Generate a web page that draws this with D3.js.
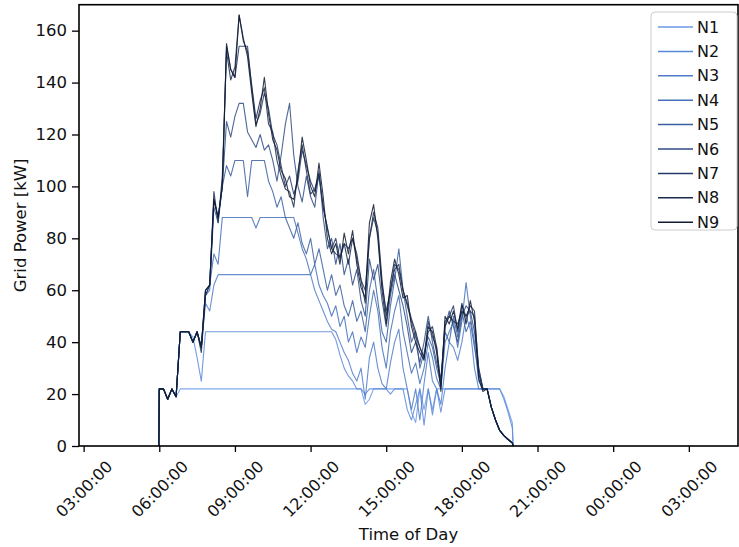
<!DOCTYPE html>
<html>
<head>
<meta charset="utf-8">
<script src="https://cdn.jsdelivr.net/npm/d3@7"></script>
<style>
  body { margin: 0; background: #fff; }
  svg { display: block; font-family: "DejaVu Sans", sans-serif; }
</style>
</head>
<body>
<svg id="chart" width="739" height="547"></svg>
<script>
// sample times (10 minute steps)
var times = ["05:59",
  "06:00","06:10","06:20","06:30","06:40","06:50",
  "07:00","07:10","07:20","07:30","07:40","07:50",
  "08:00","08:10","08:20","08:30","08:40","08:50",
  "09:00","09:10","09:20","09:30","09:40","09:50",
  "10:00","10:10","10:20","10:30","10:40","10:50",
  "11:00","11:10","11:20","11:30","11:40","11:50",
  "12:00","12:10","12:20","12:30","12:40","12:50",
  "13:00","13:10","13:20","13:30","13:40","13:50",
  "14:00","14:10","14:20","14:30","14:40","14:50",
  "15:00","15:10","15:20","15:30","15:40","15:50",
  "16:00","16:10","16:20","16:30","16:40","16:50",
  "17:00","17:10","17:20","17:30","17:40","17:50",
  "18:00","18:10","18:20","18:30","18:40","18:50",
  "19:00","19:10","19:20","19:30","19:40","19:50",
  "20:00","20:02"];

var seriesNames = ["N1","N2","N3","N4","N5","N6","N7","N8","N9"];

// grid power in kW
var n1 = [0,
  22,22,18,22,19,22,
  22,22,22,22,22,22,
  22,22,22,22,22,22,
  22,22,22,22,22,22,
  22,22,22,22,22,22,
  22,22,22,22,22,22,
  22,22,22,22,22,22,
  22,22,22,22,22,22,
  22,16,18,22,22,22,
  22,22,22,22,22,22,
  13,9,22,14,22,14,
  22,22,22,22,22,22,
  22,22,22,22,22,22,
  22,22,22,22,19,14,
  9,0];
var n2 = [0,
  22,22,18,22,19,44,
  44,44,42,34,25,44,
  44,44,44,44,44,44,
  44,44,44,44,44,44,
  44,44,44,44,44,44,
  44,44,44,44,44,44,
  44,44,44,44,44,44,
  41,35,30,27,25,22,
  22,20,22,22,22,22,
  22,20,22,22,22,14,
  10,16,22,8,22,12,
  22,13,22,22,22,22,
  22,22,22,22,22,22,
  22,22,22,22,18,13,
  7,0];
var n3 = [0,
  22,22,18,22,19,44,
  44,44,40,44,38,55,
  52,62,66,66,66,66,
  66,66,66,66,66,66,
  66,66,66,66,66,66,
  66,66,66,66,66,66,
  66,60,56,52,48,45,
  44,40,36,33,28,25,
  30,18,34,40,30,24,
  22,32,40,45,30,22,
  14,22,10,24,36,25,
  22,16,30,40,38,33,
  40,50,45,30,22,22,
  22,15,10,6,4,2.5,
  1.2,0];
var n4 = [0,
  22,22,18,22,19,44,
  44,44,40,44,38,58,
  62,74,70,88,88,88,
  88,88,88,88,88,84,
  88,88,88,88,88,88,
  88,88,88,82,76,72,
  66,70,62,58,55,50,
  54,46,50,40,44,36,
  42,38,50,60,52,38,
  30,44,52,58,44,36,
  28,32,24,30,40,34,
  26,22,40,44,48,38,
  48,63,50,40,25,22,
  22,15,10,6,4,2.5,
  1.2,0];
var n5 = [0,
  22,22,18,22,19,44,
  44,44,40,44,38,58,
  60,92,86,100,108,104,
  110,110,110,96,110,110,
  110,110,102,98,92,96,
  88,84,80,86,78,74,
  80,70,76,68,60,66,
  58,62,54,50,56,48,
  52,44,60,68,56,44,
  40,54,64,76,60,50,
  40,44,30,36,42,38,
  30,24,44,40,50,42,
  52,44,48,38,28,22,
  22,15,10,6,4,2.5,
  1.2,0];
var n6 = [0,
  22,22,18,22,19,44,
  44,44,40,44,38,60,
  62,95,88,100,125,119,
  127,132,132,121,118,115,
  120,114,116,110,102,112,
  124,132,112,100,94,104,
  96,92,106,88,76,80,
  70,78,66,72,62,68,
  56,50,72,64,70,56,
  46,58,66,60,54,46,
  36,40,32,40,50,40,
  32,26,46,52,46,40,
  50,54,52,44,30,22,
  22,15,10,6,4,2.5,
  1.2,0];
var n7 = [0,
  22,22,18,22,19,44,
  44,44,40,44,38,60,
  62,95,88,100,154,145,
  142,154,154,154,138,124,
  128,136,130,120,116,108,
  100,104,97,102,114,108,
  102,98,104,92,84,76,
  80,72,78,76,80,72,
  64,60,80,88,82,62,
  52,60,70,68,60,54,
  48,42,38,34,48,42,
  38,24,48,50,54,44,
  54,50,52,50,30,22,
  22,15,10,6,4,2.5,
  1.2,0];
var n8 = [0,
  22,22,18,22,19,44,
  44,44,40,44,36,58,
  62,98,86,104,152,141,
  146,166,156,152,139,126,
  133,138,124,121,110,104,
  99,98,92,106,116,106,
  97,99,105,92,84,76,
  74,73,78,70,80,74,
  64,55,80,90,84,64,
  50,60,68,70,60,55,
  49,44,38,34,44,46,
  38,23,46,50,48,47,
  52,50,54,52,28,22,
  22,15,10,6,4,2.5,
  1.2,0];
var n9 = [0,
  22,22,18,22,19,44,
  44,44,40,44,38,60,
  62,95,88,100,155,145,
  142,166,157,150,136,123,
  130,142,128,118,114,106,
  103,96,95,104,119,110,
  100,96,109,96,80,74,
  78,70,82,74,83,70,
  61,57,86,93,80,60,
  47,63,72,66,57,58,
  46,40,36,33,46,44,
  36,21,50,47,52,45,
  55,47,56,48,26,21,
  22,15,10,6,4,2.5,
  1.2,0];

var seriesValues = [n1, n2, n3, n4, n5, n6, n7, n8, n9];
var yTicks = [0, 20, 40, 60, 80, 100, 120, 140, 160];
var colors = ["#6b9ae8","#5a88d8","#4f7bca","#4470ba","#3a5fa0","#2f4c84","#243a68","#1a2a4c","#0f1a30"];

var svg = d3.select("#chart");
var plotLeft = 79, plotRight = 738, plotTop = 4.7, plotBottom = 446;

var parseTime = d3.utcParse("%H:%M");
var x = d3.scaleUtc()
    .domain([new Date(Date.UTC(1900, 0, 1, 2, 49)), new Date(Date.UTC(1900, 0, 2, 4, 57))])
    .range([plotLeft, plotRight]);
var y = d3.scaleLinear().domain([0, 170]).range([plotBottom, plotTop]);

var line = d3.line()
    .x(function(d) { return x(d[0]); })
    .y(function(d) { return y(d[1]); });

// lines, lightest first
seriesValues.forEach(function(vals, i) {
    var pts = times.map(function(t, j) { return [parseTime(t), vals[j]]; });
    svg.append("path")
        .attr("d", line(pts))
        .attr("fill", "none")
        .attr("stroke", colors[i])
        .attr("stroke-width", 1.1)
        .attr("stroke-opacity", 0.85)
        .attr("stroke-linejoin", "round");
});

// x axis
var xAxis = svg.append("g")
    .attr("transform", "translate(0," + plotBottom + ")")
    .call(d3.axisBottom(x).ticks(d3.utcHour.every(3)).tickFormat(d3.utcFormat("%H:%M:%S")).tickSize(6));
xAxis.select(".domain").remove();
xAxis.selectAll(".tick line").attr("stroke", "#000").attr("stroke-width", 1.3);
xAxis.selectAll(".tick text")
    .attr("x", 0).attr("y", 0).attr("dy", "0.35em")
    .attr("text-anchor", "middle")
    .attr("transform", "translate(0,43) rotate(-45)")
    .attr("font-size", "16px")
    .attr("font-family", "DejaVu Sans, sans-serif")
    .attr("fill", "#111");

// y axis
var yAxis = svg.append("g")
    .attr("transform", "translate(" + plotLeft + ",0)")
    .call(d3.axisLeft(y).tickValues(yTicks).tickSize(7).tickPadding(5));
yAxis.select(".domain").remove();
yAxis.selectAll(".tick line").attr("stroke", "#000").attr("stroke-width", 1.3);
yAxis.selectAll(".tick text")
    .attr("font-size", "16.5px")
    .attr("font-family", "DejaVu Sans, sans-serif")
    .attr("fill", "#111");

// frame
svg.append("rect")
    .attr("x", plotLeft).attr("y", plotTop)
    .attr("width", plotRight - plotLeft).attr("height", plotBottom - plotTop)
    .attr("fill", "none")
    .attr("stroke", "#000")
    .attr("stroke-width", 1.6);

// axis labels
svg.append("text")
    .attr("x", (plotLeft + plotRight) / 2).attr("y", 540)
    .attr("text-anchor", "middle")
    .attr("font-size", "16.5px")
    .attr("fill", "#111")
    .text("Time of Day");

svg.append("text")
    .attr("transform", "translate(20," + ((plotTop + plotBottom) / 2) + ") rotate(-90)")
    .attr("text-anchor", "middle")
    .attr("dy", "0.35em")
    .attr("font-size", "16.5px")
    .attr("fill", "#111")
    .text("Grid Power [kW]");

// legend
var legend = svg.append("g");
legend.append("rect")
    .attr("x", 651).attr("y", 12)
    .attr("width", 86).attr("height", 218)
    .attr("rx", 4)
    .attr("fill", "#fff").attr("fill-opacity", 0.8)
    .attr("stroke", "#ccc");
seriesNames.forEach(function(name, i) {
    var ly = 27 + i * 24.4;
    legend.append("line")
        .attr("x1", 658).attr("x2", 693)
        .attr("y1", ly).attr("y2", ly)
        .attr("stroke", colors[i])
        .attr("stroke-width", 1.5);
    legend.append("text")
        .attr("x", 697).attr("y", ly)
        .attr("dy", "0.35em")
        .attr("font-size", "16px")
        .attr("fill", "#111")
        .text(name);
});
</script>
</body>
</html>
